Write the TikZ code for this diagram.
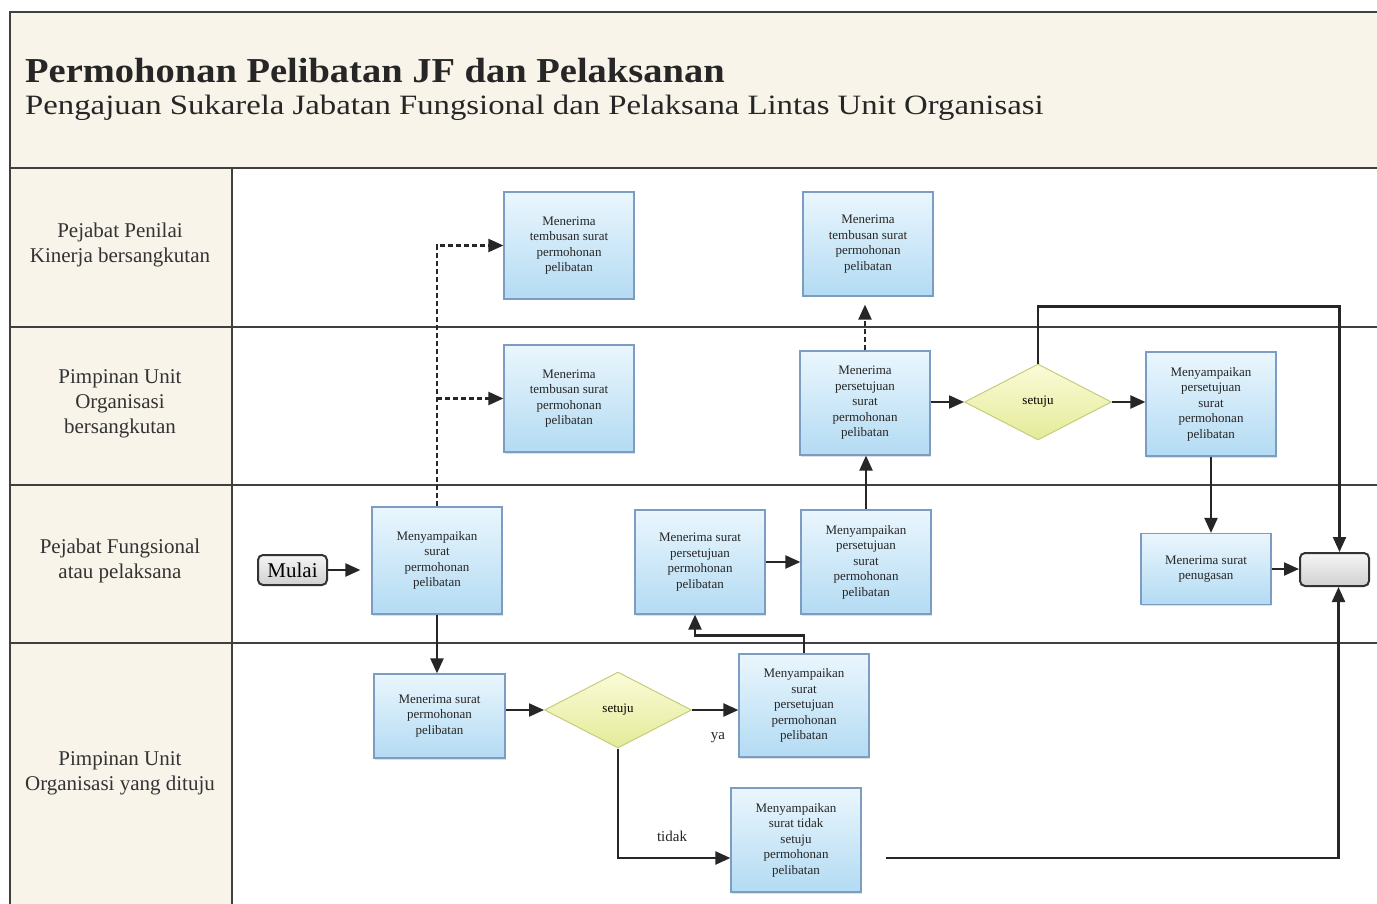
\documentclass[tikz,border=0pt]{standalone}
\usepackage{fontspec}
\setmainfont{Liberation Serif}
\usetikzlibrary{shapes.geometric,arrows.meta,shadows,calc}
\definecolor{beige}{HTML}{F8F4EA}
\definecolor{boxtop}{HTML}{EAF6FD}
\definecolor{boxbot}{HTML}{B3DBF3}
\definecolor{boxline}{HTML}{7C9CC2}
\definecolor{diatop}{HTML}{FBFBD8}
\definecolor{diabot}{HTML}{E4EB98}
\definecolor{dialine}{HTML}{C6CC7C}
\definecolor{lanel}{HTML}{333333}
\tikzset{
  procbox/.style={draw=boxline, line width=1.2pt, top color=boxtop, bottom color=boxbot,
    minimum width=130pt, align=center, inner sep=2pt, text=black!85,
    font=\fontsize{13}{15.5}\selectfont,
    drop shadow={opacity=0.25, shadow xshift=1.2pt, shadow yshift=-1.5pt}},
  decision/.style={diamond, draw=dialine, line width=1pt, top color=diatop, bottom color=diabot,
    minimum width=147pt, minimum height=76pt, inner sep=0pt, font=\fontsize{13}{15}\selectfont},
  termbox/.style={draw=black!80, line width=2pt, rounded corners=5pt, top color=black!4, bottom color=black!18,
    minimum width=69pt, inner sep=0pt},
  arr/.style={-{Triangle[length=15pt,width=13pt]}, line width=2.2pt, draw=black!85},
  darr/.style={arr, dash pattern=on 5pt off 3pt},
  lanetxt/.style={align=center, font=\fontsize{21}{25}\selectfont, text=lanel},
  lanerule/.style={line width=1.3pt, draw=black!75},
  lbl/.style={font=\fontsize{15}{16}\selectfont, text=black!85}
}
\begin{document}
\begin{tikzpicture}[x=1pt,y=-1pt]
\useasboundingbox (0,0) rectangle (1377,904);
\fill[white] (0,0) rectangle (1377,904);
% header and lane column
\fill[beige] (10,12) rectangle (1377,168);
\fill[beige] (10,168) rectangle (232,904);
\draw[lanerule] (10,904) -- (10,12) -- (1377,12);
\draw[lanerule] (10,168) -- (1377,168);
\draw[lanerule] (10,327) -- (1377,327);
\draw[lanerule] (10,485) -- (1377,485);
\draw[lanerule] (10,643) -- (1377,643);
\draw[lanerule] (232,168) -- (232,904);
% titles
\node[anchor=base west, inner sep=0pt, font=\fontsize{35}{38}\selectfont\bfseries\addfontfeature{FakeStretch=1.1}, text=black!85] (title) at (25,83) {Permohonan Pelibatan JF dan Pelaksanan};
\node[anchor=base west, inner sep=0pt, font=\fontsize{28}{30}\selectfont\addfontfeature{FakeStretch=1.17}, text=black!85] (subtitle) at (25,115) {Pengajuan Sukarela Jabatan Fungsional dan Pelaksana Lintas Unit Organisasi};
% lane labels
\node[lanetxt] (l1) at (120,245) {Pejabat Penilai\\Kinerja bersangkutan};
\node[lanetxt] (l2) at (120,404) {Pimpinan Unit\\Organisasi\\bersangkutan};
\node[lanetxt] (l3) at (120,561) {Pejabat Fungsional\\atau pelaksana};
\node[lanetxt] (l4) at (120,773) {Pimpinan Unit\\Organisasi yang dituju};
% boxes
\node[procbox, minimum height=107pt] (a1) at (569,245.5) {Menerima\\tembusan surat\\permohonan\\pelibatan};
\node[procbox, minimum height=104pt] (a2) at (868,244) {Menerima\\tembusan surat\\permohonan\\pelibatan};
\node[procbox, minimum height=107pt] (b1) at (569,398.5) {Menerima\\tembusan surat\\permohonan\\pelibatan};
\node[procbox, minimum height=104pt] (b2) at (865,403) {Menerima\\persetujuan\\surat\\permohonan\\pelibatan};
\node[decision] (d1) at (1038,402) {setuju};
\node[procbox, minimum height=104pt] (b3) at (1211,404) {Menyampaikan\\persetujuan\\surat\\permohonan\\pelibatan};
\node[termbox, minimum height=30pt, font=\fontsize{21}{22}\selectfont] (mulai) at (292.5,570) {Mulai};
\node[procbox, minimum height=107pt] (c1) at (437,560.5) {Menyampaikan\\surat\\permohonan\\pelibatan};
\node[procbox, minimum height=104pt] (c2) at (700,562) {Menerima surat\\persetujuan\\permohonan\\pelibatan};
\node[procbox, minimum height=104pt] (c3) at (866,562) {Menyampaikan\\persetujuan\\surat\\permohonan\\pelibatan};
\node[procbox, minimum height=71pt] (c4) at (1206,569) {Menerima surat\\penugasan};
\node[termbox, minimum height=33pt] (endn) at (1334.5,569.5) {};
\node[procbox, minimum height=84pt, minimum width=131pt] (e1) at (439.5,716) {Menerima surat\\permohonan\\pelibatan};
\node[decision] (d2) at (618,710) {setuju};
\node[procbox, minimum height=103pt] (e2) at (804,705.5) {Menyampaikan\\surat\\persetujuan\\permohonan\\pelibatan};
\node[procbox, minimum height=104pt] (e3) at (796,840) {Menyampaikan\\surat tidak\\setuju\\permohonan\\pelibatan};
% connectors
\draw[arr, shorten >=11pt] (mulai.east) -- (mulai.east -| c1.west);
\draw[darr] (c1.north) -- (c1.north |- a1.west) -- (a1.west);
\draw[darr] (c1.north |- b1.west) -- (b1.west);
\draw[arr] (c1.south) -- (c1.south |- e1.north);
\draw[arr] (d2.west -| e1.east) -- (d2.west);
\draw[arr] (d2.east) -- (d2.east -| e2.west);
\node[lbl] (ya) at (718,738) {ya};
\draw[arr] (d2.south) |- ([yshift=-18pt]e3.west);
\node[lbl] (tidak) at (672,836) {tidak};
\draw[arr] (e2.north) -- ++(0,-18) -| ([xshift=-5pt]c2.south);
\draw[arr] (c2.east) -- (c3.west);
\draw[arr] (c3.north) -- (c3.north |- b2.south);
\draw[darr, shorten >=8pt] (b2.north) -- (b2.north |- a2.south);
\draw[arr] (d1.west -| b2.east) -- (d1.west);
\draw[arr] (d1.east) -- (d1.east -| b3.west);
\draw[arr] (d1.north) -- ++(0,-57) -| ([xshift=5pt]endn.north);
\draw[arr] (b3.south) -- (b3.south |- c4.north);
\draw[arr] (c4.east) -- (c4.east -| endn.west);
\draw[arr, shorten <=24pt] ([yshift=-18pt]e3.east) -| ([xshift=4pt]endn.south);
\end{tikzpicture}
\end{document}
